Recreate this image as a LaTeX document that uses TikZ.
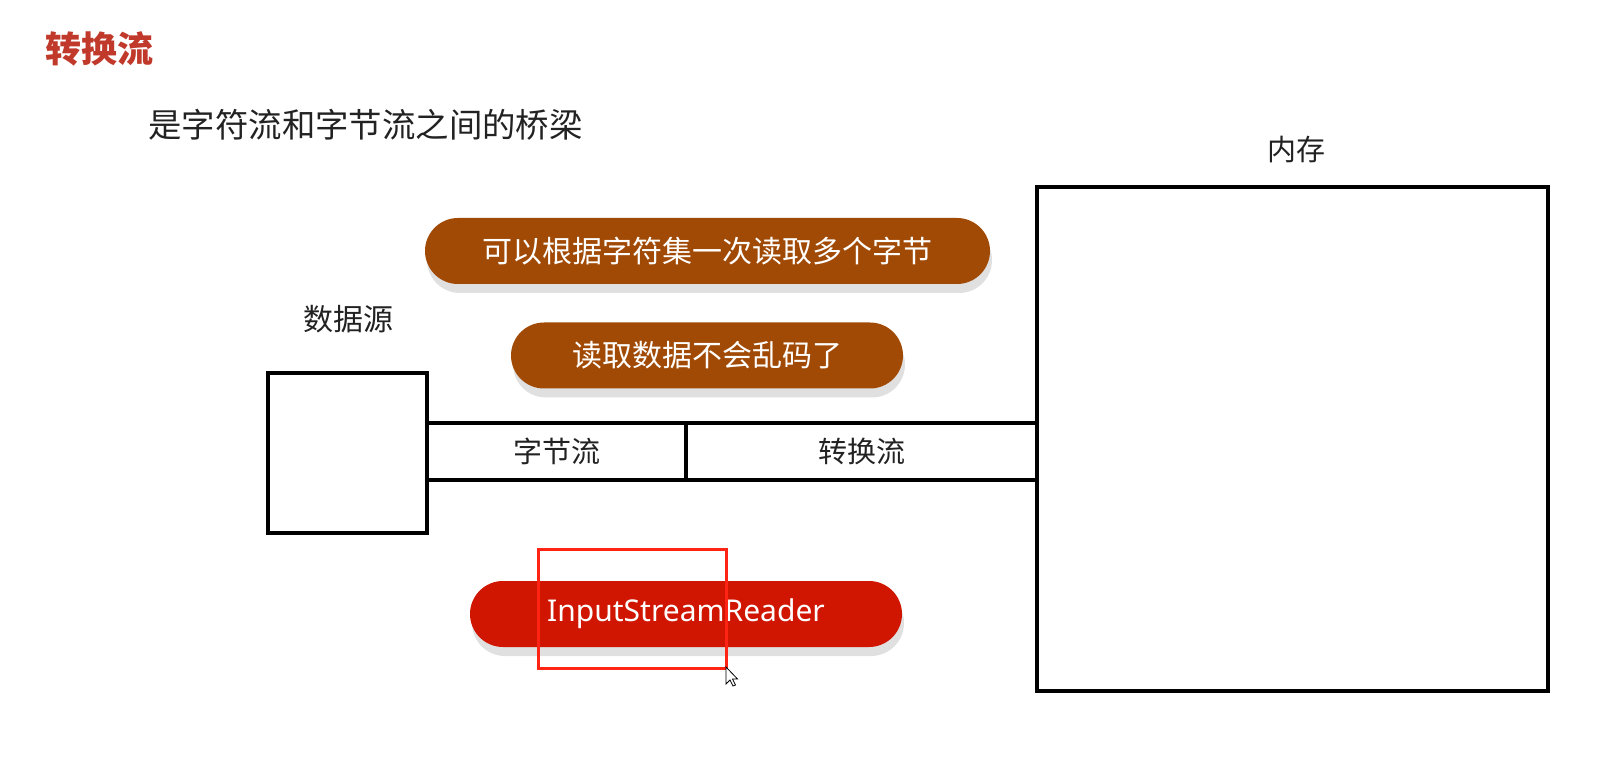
\documentclass[tikz,border=0pt]{standalone}
\usepackage{fontspec}
\setmainfont{Noto Sans}
\newfontfamily\cjk{Noto Sans CJK SC}
\usetikzlibrary{shadows}
\definecolor{titlered}{HTML}{C0392B}
\definecolor{pillbrown}{HTML}{A14A06}
\definecolor{pillred}{HTML}{D01500}
\definecolor{markred}{HTML}{FF2414}
\definecolor{txt}{HTML}{222222}
\tikzset{
  box/.style={draw=black, line width=2pt, inner sep=0pt},
  lbl/.style={text=txt, font=\cjk\fontsize{14.5pt}{16pt}\selectfont, inner sep=0pt},
  pill/.style={fill=#1, text=white, minimum height=33pt, rounded corners=16.5pt, inner sep=0pt,
    drop shadow={shadow xshift=1pt, shadow yshift=-4.5pt, fill=black!12, opacity=1}},
}
\begin{document}
\begin{tikzpicture}[x=0.5pt,y=-0.5pt]
\useasboundingbox (0,0) rectangle (1613,759);
\fill[white] (0,0) rectangle (1613,759);
% title and subtitle
\node[anchor=west, text=titlered, font=\cjk\bfseries\fontsize{18pt}{20pt}\selectfont, inner sep=0pt] (title) at (45,49) {转换流};
\node[anchor=west, text=txt, font=\cjk\fontsize{16.7pt}{18pt}\selectfont, inner sep=0pt] (sub) at (148,125) {是字符流和字节流之间的桥梁};
% memory
\node[box, minimum width=255.5pt, minimum height=252pt] (mem) at (1292.5,439) {};
\node[lbl] (memlbl) at (1296,150) {内存};
% data source
\node[box, minimum width=79.5pt, minimum height=80pt] (src) at (347.5,453) {};
\node[lbl, font=\cjk\fontsize{15pt}{16pt}\selectfont] (srclbl) at (348,319) {数据源};
% streams
\node[box, line width=1.8pt, minimum width=129.5pt, minimum height=28.5pt] (byte) at (556.5,451.5) {};
\node[box, line width=1.8pt, minimum width=175.5pt, minimum height=28.5pt] (conv) at (861.5,451.5) {};
\node[lbl] (bytelbl) at (byte.center) {字节流};
\node[lbl] (convlbl) at (conv.center) {转换流};
% pills
\node[pill=pillbrown, minimum width=282.5pt, font=\cjk\fontsize{15pt}{16pt}\selectfont] (p1) at (707.5,251) {可以根据字符集一次读取多个字节};
\node[pill=pillbrown, minimum width=196pt, font=\cjk\fontsize{15pt}{16pt}\selectfont] (p2) at (707,355.5) {读取数据不会乱码了};
\node[pill=pillred, minimum width=216pt, font=\fontsize{15pt}{16pt}\selectfont] (p3) at (686,614) {InputStreamReader};
% highlight rectangle
\node[draw=markred, line width=1.5pt, minimum width=94pt, minimum height=59.5pt, inner sep=0pt] (mark) at (632,608.5) {};
% mouse cursor
\coordinate (tip) at (726,667);
\filldraw[fill=white, draw=black, line width=0.4pt, shift={(tip)}]
  (0,0) -- (0,17) -- (4,13) -- (7,19) -- (9.5,18) -- (6.5,12) -- (11.5,12) -- cycle;
\end{tikzpicture}
\end{document}
